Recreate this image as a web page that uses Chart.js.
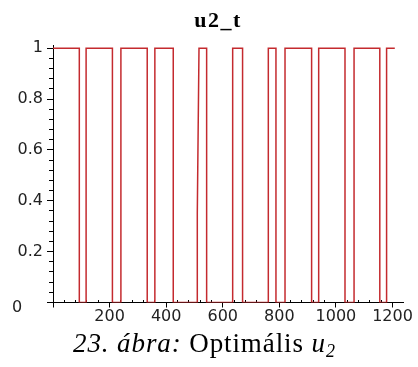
<!DOCTYPE html>
<html><head><meta charset="utf-8">
<script src="https://cdn.jsdelivr.net/npm/chart.js@4"></script>
<style>
html,body{margin:0;padding:0;background:#fff;}
#wrap{position:relative;width:418px;height:367px;overflow:hidden;background:#fff;}
#ttl{position:absolute;left:118px;width:200px;top:8px;text-align:center;font-family:"Liberation Serif","Times New Roman",serif;font-weight:bold;font-size:22px;line-height:24px;letter-spacing:1.5px;color:#000;}
#cap{position:absolute;left:73px;top:330px;font-family:"Liberation Serif","Times New Roman",serif;font-size:27px;line-height:27px;color:#000;white-space:nowrap;letter-spacing:0.9px;}
#cap sub{font-size:18px;vertical-align:baseline;position:relative;top:5px;}
</style></head><body>
<div id="wrap"><canvas id="c" width="418" height="367"></canvas>
<div id="ttl"></div>
<div id="cap"><i>23. ábra:</i> Optimális <i>u</i><sub><i>2</i></sub></div></div>
<script>
// ---- data ----
const chartTitle = 'u2_t';
const tValues = [0, 93, 93, 117, 117, 210, 210, 240, 240, 333, 333, 360, 360, 425, 425, 510, 510, 516, 543, 543, 635, 635, 670, 670, 761, 761, 788, 788, 820, 820, 914, 914, 939, 939, 1032, 1032, 1064, 1064, 1155, 1155, 1179, 1179, 1208];
const uValues = [1, 1, 0, 0, 1, 1, 0, 0, 1, 1, 0, 0, 1, 1, 0, 0, 0.35, 1, 1, 0, 0, 1, 1, 0, 0, 1, 1, 0, 0, 1, 1, 0, 0, 1, 1, 0, 0, 1, 1, 0, 0, 1, 1];
const xTicks = [0, 200, 400, 600, 800, 1000, 1200];
const xMinorTicks = [40, 80, 120, 160, 240, 280, 320, 360, 440, 480, 520, 560, 640, 680, 720, 760, 840, 880, 920, 960, 1040, 1080, 1120, 1160];
const yTicks = [0, 0.2, 0.4, 0.6, 0.8, 1];
const yMinorTicks = [0.04, 0.08, 0.12, 0.16, 0.24, 0.28, 0.32, 0.36, 0.44, 0.48, 0.52, 0.56, 0.64, 0.68, 0.72, 0.76, 0.84, 0.88, 0.92, 0.96];
const xRange = [0, 1237];
const yRange = [0, 1.013];

document.getElementById('ttl').textContent = chartTitle;
const points = tValues.map((t, i) => ({x: t, y: uValues[i]}));
const tickFont = {family: 'DejaVu Sans, sans-serif', size: 16};
const tickColor = '#222';

const originLabel = {
  id: 'originLabel',
  afterDraw(chart) {
    const xs = chart.scales.x, ys = chart.scales.y, ctx = chart.ctx;
    ctx.save();
    ctx.font = '16px "DejaVu Sans", sans-serif';
    ctx.fillStyle = tickColor;
    ctx.textAlign = 'left';
    ctx.textBaseline = 'middle';
    ctx.fillText('0', xs.getPixelForValue(0) - 41, ys.getPixelForValue(0) + 5);
    ctx.restore();
  }
};

new Chart(document.getElementById('c'), {
  type: 'line',
  data: {datasets: [{
    data: points,
    borderColor: '#c42a2e',
    borderWidth: 1.5,
    pointRadius: 0,
    tension: 0,
    fill: false
  }]},
  options: {
    responsive: false,
    devicePixelRatio: 1,
    animation: false,
    events: [],
    layout: {padding: {left: 10, right: 15, top: 45, bottom: 39.5}},
    plugins: {
      legend: {display: false},
      tooltip: {enabled: false},
      title: {display: false}
    },
    scales: {
      x: {type: 'linear', position: 'bottom', min: xRange[0], max: xRange[1],
        afterBuildTicks: s => { s.ticks = xTicks.map(v => ({value: v})); },
        afterFit: s => { s.height = 25; },
        ticks: {font: tickFont, color: tickColor, padding: 0, maxRotation: 0, autoSkip: false,
          callback: v => v === 0 ? '' : String(v)},
        grid: {display: true, drawOnChartArea: false, drawTicks: true, tickLength: 5, color: '#000', tickColor: '#000'},
        border: {display: true, color: '#000', width: 1}
      },
      xm: {type: 'linear', position: {y: 0}, min: xRange[0], max: xRange[1],
        afterBuildTicks: s => { s.ticks = xMinorTicks.map(v => ({value: v})); },
        ticks: {display: false},
        grid: {display: true, drawOnChartArea: false, drawTicks: true, tickLength: -3, tickColor: '#000'},
        border: {display: false}
      },
      y: {type: 'linear', position: 'left', min: yRange[0], max: yRange[1],
        afterBuildTicks: s => { s.ticks = yTicks.map(v => ({value: v})); },
        afterFit: s => { s.width = 43; },
        ticks: {font: tickFont, color: tickColor, padding: 4,
          callback: v => v === 0 ? '' : String(v)},
        grid: {display: true, drawOnChartArea: false, drawTicks: true, tickLength: 6, color: '#000', tickColor: '#000'},
        border: {display: true, color: '#000', width: 1}
      },
      ym: {type: 'linear', position: {x: 0}, min: yRange[0], max: yRange[1],
        afterBuildTicks: s => { s.ticks = yMinorTicks.map(v => ({value: v})); },
        ticks: {display: false},
        grid: {display: true, drawOnChartArea: false, drawTicks: true, tickLength: 4, tickColor: '#000'},
        border: {display: false}
      }
    }
  },
  plugins: [originLabel]
});
</script>
</body></html>
